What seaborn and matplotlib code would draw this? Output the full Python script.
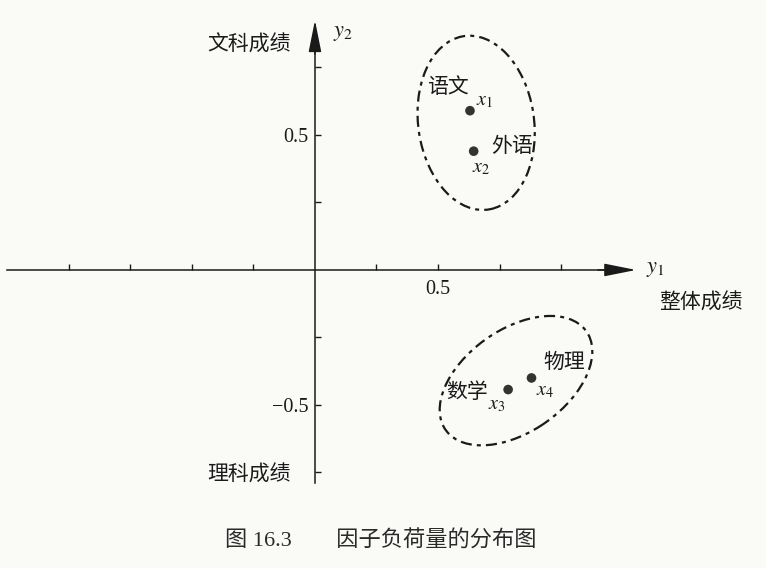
import seaborn as sns
import matplotlib.pyplot as plt
import pandas as pd
from matplotlib.patches import Ellipse

# ==============================
# Data: factor loadings
# ==============================
variables = ['x1', 'x2', 'x3', 'x4']
subjects = ['语文', '外语', '数学', '物理']
loading_y1 = [0.63, 0.645, 0.785, 0.88]
loading_y2 = [0.59, 0.44, -0.443, -0.40]

x_ticks = [-1.0, -0.75, -0.5, -0.25, 0.25, 0.5, 0.75, 1.0]
x_ticklabels = ['', '', '', '', '', '0.5', '', '']
y_ticks = [-0.75, -0.5, -0.25, 0.25, 0.5, 0.75]
y_ticklabels = ['', '\u22120.5', '', '', '0.5', '']

df = pd.DataFrame({'var': variables, 'subject': subjects,
                   'y1': loading_y1, 'y2': loading_y2})

# ==============================
# Style
# ==============================
sns.set_theme(style='white')
plt.rcParams['font.family'] = ['Liberation Serif', 'Noto Sans CJK SC', 'DejaVu Sans']
plt.rcParams['mathtext.fontset'] = 'stix'
bg = '#fafaf7'
ink = '#1a1a1a'
cjk = ['Noto Sans CJK SC', 'DejaVu Sans']

fig = plt.figure(figsize=(7.66, 5.68), dpi=100, facecolor=bg)
ax = fig.add_axes([0, 0, 1, 1], facecolor=bg)
ax.set_xlim(-1.28, 1.833)
ax.set_ylim(-1.104, 1.0)

# ==============================
# Scatter of loadings
# ==============================
sns.scatterplot(data=df, x='y1', y='y2', color='#333333', s=48,
                edgecolor='none', ax=ax, zorder=5)

# ==============================
# Axes through origin
# ==============================
for side in ['top', 'right']:
    ax.spines[side].set_visible(False)
ax.spines['left'].set_position(('data', 0))
ax.spines['bottom'].set_position(('data', 0))
ax.spines['left'].set_bounds(-0.79, 0.90)
ax.spines['bottom'].set_bounds(-1.25, 1.28)
for side in ['left', 'bottom']:
    ax.spines[side].set_color(ink)
    ax.spines[side].set_linewidth(1.1)

ax.set_xticks(x_ticks)
ax.set_xticklabels(x_ticklabels)
ax.set_yticks(y_ticks)
ax.set_yticklabels(y_ticklabels)
ax.tick_params(axis='both', direction='in', length=4.5, width=1.0,
               bottom=True, left=True,
               color=ink, labelcolor=ink, labelsize=14.5)
ax.tick_params(axis='x', pad=7)
ax.tick_params(axis='y', pad=5)
ax.set_xlabel('')
ax.set_ylabel('')

# arrow heads
arrow_kw = dict(arrowstyle='-|>,head_length=1.4,head_width=0.28',
                color=ink, lw=1.1, shrinkA=0, shrinkB=0, mutation_scale=14)
ax.annotate('', xy=(1.305, 0), xytext=(1.15, 0), arrowprops=arrow_kw)
ax.annotate('', xy=(0, 0.925), xytext=(0, 0.80), arrowprops=arrow_kw)

# axis names
ax.text(1.385, 0.0, '$y_1$', fontsize=16, color=ink, ha='center', va='center')
ax.text(0.115, 0.875, '$y_2$', fontsize=16, color=ink, ha='center', va='center')
ax.text(1.57, -0.12, '整体成绩', fontsize=15, color=ink, ha='center',
        va='center', family=cjk)
ax.text(-0.268, 0.833, '文科成绩', fontsize=15, color=ink, ha='center',
        va='center', family=cjk)
ax.text(-0.268, -0.757, '理科成绩', fontsize=15, color=ink, ha='center',
        va='center', family=cjk)

# ==============================
# Point labels
# ==============================
subj_offsets = [(-22, 24), (38, 5), (-41, -2), (33, 16)]
var_offsets = [(15, 10), (7, -17), (-11, -15), (14, -13)]
for i, row in df.iterrows():
    ax.annotate(row['subject'], (row['y1'], row['y2']),
                xytext=subj_offsets[i], textcoords='offset pixels',
                ha='center', va='center', fontsize=15, color=ink, family=cjk)
    ax.annotate('$' + row['var'][0] + '_' + row['var'][1] + '$',
                (row['y1'], row['y2']),
                xytext=var_offsets[i], textcoords='offset pixels',
                ha='center', va='center', fontsize=14.5, color=ink)

# ==============================
# Group ellipses
# ==============================
ell_style = dict(fill=False, edgecolor=ink, lw=1.6,
                 linestyle=(0, (5, 2.3, 1.8, 2.3)), zorder=4)
ax.add_patch(Ellipse((0.655, 0.545), width=0.47, height=0.65, angle=10,
                     **ell_style))
ax.add_patch(Ellipse((0.817, -0.41), width=0.68, height=0.39, angle=30,
                     **ell_style))

# ==============================
# Caption
# ==============================
fig.text(0.497, 1 - 541 / 568, '图 16.3\u3000\u3000因子负荷量的分布图',
         fontsize=16, color='#2a2a2a', ha='center', va='center')

fig.savefig('out.png', dpi=100, facecolor=bg)
